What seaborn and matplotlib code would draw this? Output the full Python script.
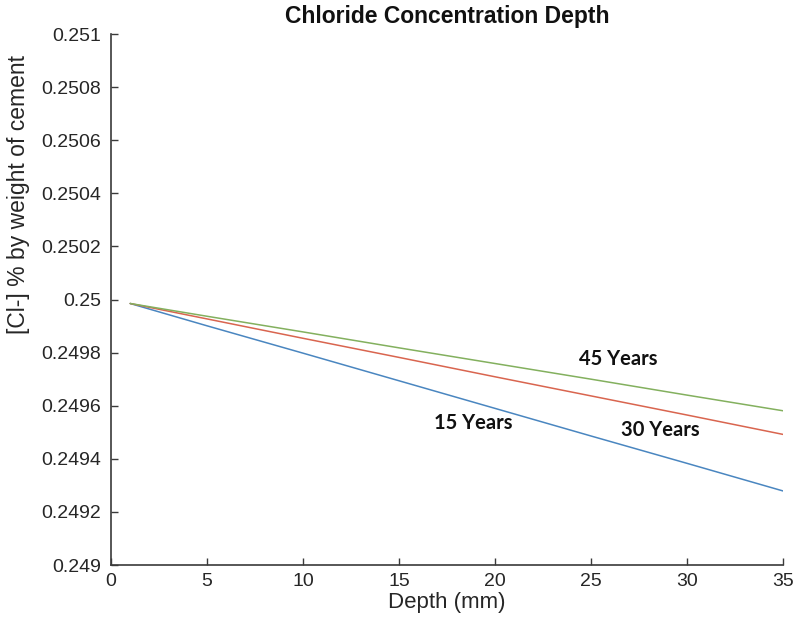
import matplotlib
matplotlib.use("Agg")
import matplotlib.pyplot as plt
import seaborn as sns
import pandas as pd

# Chloride content (% by weight of cement) against depth for three exposure times
depth_mm = [1, 5, 10, 15, 20, 25, 30, 35]
years_15 = [0.249985, 0.249901, 0.249798, 0.249694, 0.249590, 0.249486, 0.249383, 0.249279]
years_30 = [0.249985, 0.249927, 0.249854, 0.249782, 0.249709, 0.249637, 0.249565, 0.249492]
years_45 = [0.249985, 0.249937, 0.249878, 0.249818, 0.249759, 0.249700, 0.249640, 0.249581]

series_names = ["15 Years", "30 Years", "45 Years"]
series_colors = ["#4a86c0", "#d9654f", "#83b05e"]

x_ticks = [0, 5, 10, 15, 20, 25, 30, 35]
y_ticks = [0.249, 0.2492, 0.2494, 0.2496, 0.2498, 0.25, 0.2502, 0.2504, 0.2506, 0.2508, 0.251]
y_tick_labels = ["0.249", "0.2492", "0.2494", "0.2496", "0.2498", "0.25",
                 "0.2502", "0.2504", "0.2506", "0.2508", "0.251"]

# label text, x position (mm), y position
curve_labels = [("45 Years", 26.4, 0.249777),
                ("15 Years", 18.85, 0.249536),
                ("30 Years", 28.6, 0.249509)]

frames = []
for name, vals in zip(series_names, [years_15, years_30, years_45]):
    frames.append(pd.DataFrame({"Depth": depth_mm, "Cl": vals, "Series": name}))
df = pd.concat(frames, ignore_index=True)

sns.set_style("white")
plt.rcParams["font.family"] = ["Liberation Sans", "DejaVu Sans"]

fig = plt.figure(figsize=(7.98, 6.36), dpi=100)
ax = fig.add_axes([0.1391, 0.1116, 0.8421, 0.8349])

sns.lineplot(data=df, x="Depth", y="Cl", hue="Series", hue_order=series_names,
             palette=series_colors, linewidth=1.1, legend=False, ax=ax)

ax.set_xlim(0, 35)
ax.set_ylim(0.249, 0.251)
ax.set_xticks(x_ticks)
ax.set_xticklabels([str(t) for t in x_ticks])
ax.set_yticks(y_ticks)
ax.set_yticklabels(y_tick_labels)

for side in ["top", "right"]:
    ax.spines[side].set_visible(False)
for side in ["left", "bottom"]:
    ax.spines[side].set_color("#3a3a3a")
    ax.spines[side].set_linewidth(1.2)

ax.tick_params(axis="both", direction="in", length=5, width=1.0, color="#3a3a3a",
               labelsize=14, labelcolor="#262626",
               bottom=True, left=True, top=False, right=False)
ax.tick_params(axis="x", pad=6)
ax.tick_params(axis="y", pad=7)

ax.set_xlabel("Depth (mm)", fontsize=16, color="#262626", labelpad=1)
ax.set_ylabel("[Cl-] % by weight of cement", fontsize=16.5, color="#262626")
ax.yaxis.set_label_coords(-0.12, 0.697)
ax.set_title("Chloride Concentration Depth", fontsize=16.5, fontweight="bold",
             color="#111111", pad=8)

for text, xv, yv in curve_labels:
    ax.text(xv, yv, text, ha="center", va="center", fontsize=14.5,
            fontweight="bold", family=["Lato", "DejaVu Sans"], color="#111111")

fig.savefig("out.png", dpi=100, facecolor="white")
